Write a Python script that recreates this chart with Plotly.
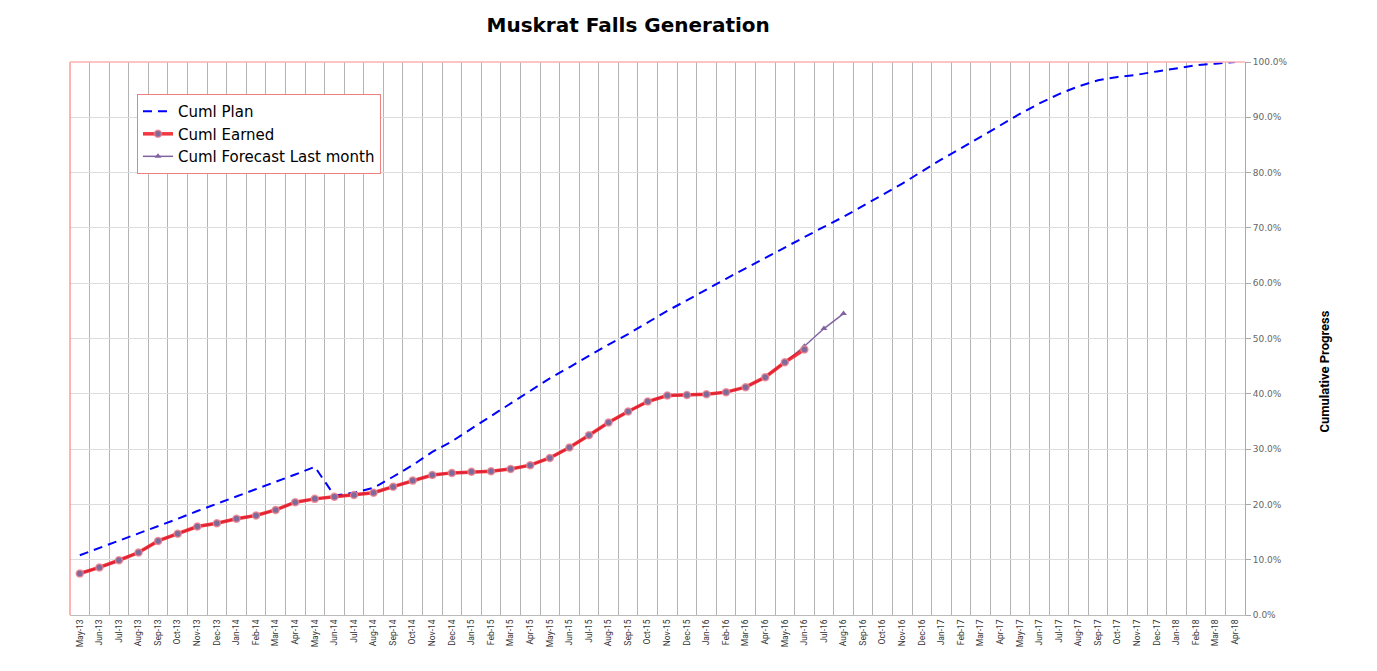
import plotly.graph_objects as go

months = ["May-13","Jun-13","Jul-13","Aug-13","Sep-13","Oct-13","Nov-13","Dec-13",
          "Jan-14","Feb-14","Mar-14","Apr-14","May-14","Jun-14","Jul-14","Aug-14","Sep-14","Oct-14","Nov-14","Dec-14",
          "Jan-15","Feb-15","Mar-15","Apr-15","May-15","Jun-15","Jul-15","Aug-15","Sep-15","Oct-15","Nov-15","Dec-15",
          "Jan-16","Feb-16","Mar-16","Apr-16","May-16","Jun-16","Jul-16","Aug-16","Sep-16","Oct-16","Nov-16","Dec-16",
          "Jan-17","Feb-17","Mar-17","Apr-17","May-17","Jun-17","Jul-17","Aug-17","Sep-17","Oct-17","Nov-17","Dec-17",
          "Jan-18","Feb-18","Mar-18","Apr-18"]

cuml_plan = [10.8, 12.1, 13.4, 14.8, 16.1, 17.4, 18.8, 20.1, 21.4, 22.8, 24.1, 25.4,
             26.8, 21.6, 22.1, 23.0, 25.0, 27.1, 29.5, 31.4, 33.7, 36.0, 38.3, 40.6,
             42.8, 44.8, 46.9, 48.9, 50.8, 52.9, 55.0, 56.9, 58.9, 60.8, 62.7, 64.6,
             66.5, 68.4, 70.2, 72.0, 74.0, 75.9, 78.0, 80.2, 82.4, 84.4, 86.5, 88.6,
             90.6, 92.5, 94.2, 95.6, 96.7, 97.3, 97.7, 98.3, 98.9, 99.4, 99.7, 100.0]

cuml_earned = [7.5, 8.6, 9.9, 11.3, 13.4, 14.7, 16.0, 16.6, 17.4, 18.0, 19.0, 20.4,
               21.0, 21.4, 21.7, 22.1, 23.2, 24.3, 25.3, 25.7, 25.9, 26.0, 26.4, 27.1,
               28.4, 30.3, 32.5, 34.8, 36.8, 38.6, 39.7, 39.8, 39.9, 40.3, 41.2, 43.0,
               45.7, 48.0]

cuml_forecast = [7.5, 8.6, 9.9, 11.3, 13.4, 14.7, 16.0, 16.6, 17.4, 18.0, 19.0, 20.4,
                 21.0, 21.4, 21.7, 22.1, 23.2, 24.3, 25.3, 25.7, 25.9, 26.0, 26.4, 27.1,
                 28.4, 30.3, 32.5, 34.8, 36.8, 38.6, 39.7, 39.8, 39.9, 40.3, 41.2, 43.0,
                 45.7, 48.6, 51.8, 54.5]

y_ticks = [0, 10, 20, 30, 40, 50, 60, 70, 80, 90, 100]
y_tick_labels = ["0.0%", "10.0%", "20.0%", "30.0%", "40.0%", "50.0%",
                 "60.0%", "70.0%", "80.0%", "90.0%", "100.0%"]

narrow = "Liberation Sans Narrow, Arial Narrow, Roboto, sans-serif"
wide = "DejaVu Sans, Verdana, sans-serif"

fig = go.Figure()

fig.add_trace(go.Scatter(
    x=months, y=cuml_plan, name="Cuml Plan", mode="lines",
    line=dict(color="#0000FF", width=2, dash="9px,6px"),
    legendgroup="a", legendrank=1))

fig.add_trace(go.Scatter(
    x=months[:len(cuml_forecast)], y=cuml_forecast, name="Cuml Forecast Last month",
    mode="lines+markers",
    line=dict(color="#8064A2", width=1.5),
    marker=dict(symbol="triangle-up", size=6, color="#8064A2"),
    legendgroup="c", legendrank=3))

fig.add_trace(go.Scatter(
    x=months[:len(cuml_earned)], y=cuml_earned, name="Cuml Earned",
    mode="lines+markers",
    line=dict(color="rgba(240,20,30,0.85)", width=3.5),
    marker=dict(symbol="circle", size=7, color="#7F6A9C",
                line=dict(color="rgba(240,130,140,0.8)", width=1.5)),
    legendgroup="b", legendrank=2))

fig.update_layout(
    width=1369, height=663,
    paper_bgcolor="white", plot_bgcolor="white",
    margin=dict(l=62, r=132, t=54, b=56),
    title=dict(text="<b>Muskrat Falls Generation</b>", x=0.453, xanchor="center",
               y=0.974, yanchor="middle",
               font=dict(family=wide, size=20, color="#000")),
    showlegend=True,
    legend=dict(x=0.057, y=0.942, xanchor="left", yanchor="top",
                bgcolor="white", bordercolor="#F08080", borderwidth=1,
                font=dict(family=wide, size=15, color="#000"),
                traceorder="grouped", tracegroupgap=0, itemwidth=30),
    xaxis=dict(type="category", tickson="boundaries", showgrid=True,
               gridcolor="#B4B4B4", gridwidth=1, ticks="",
               tickangle=-90,
               tickfont=dict(family=narrow, size=8.5, color="#333"),
               showline=True, linecolor="#BBBBBB", linewidth=1,
               range=[-0.5, len(months) - 0.5], zeroline=False),
    yaxis=dict(side="right", range=[0, 100], tickvals=y_ticks, ticktext=y_tick_labels,
               showgrid=True, gridcolor="#DDDDDD", gridwidth=1,
               ticks="outside", ticklen=5, tickcolor="#AAAAAA",
               showline=True, linecolor="#AAAAAA", linewidth=1,
               tickfont=dict(family=wide, size=9, color="#666"),
               zeroline=False),
)

fig.add_annotation(text="<b>Cumulative Progress</b>", textangle=-90,
                   xref="paper", yref="paper", x=1.068, y=0.44,
                   xanchor="center", yanchor="middle", showarrow=False,
                   font=dict(family=narrow, size=13, color="#000"))

# left axis line (red) and top border (pink)
fig.add_shape(type="line", xref="paper", yref="paper", x0=0, x1=0, y0=0, y1=1,
              line=dict(color="#FF6666", width=1))
fig.add_shape(type="line", xref="paper", yref="paper", x0=0, x1=1, y0=1, y1=1,
              line=dict(color="#FFB0B0", width=1.5))

fig.write_html("out.html")
